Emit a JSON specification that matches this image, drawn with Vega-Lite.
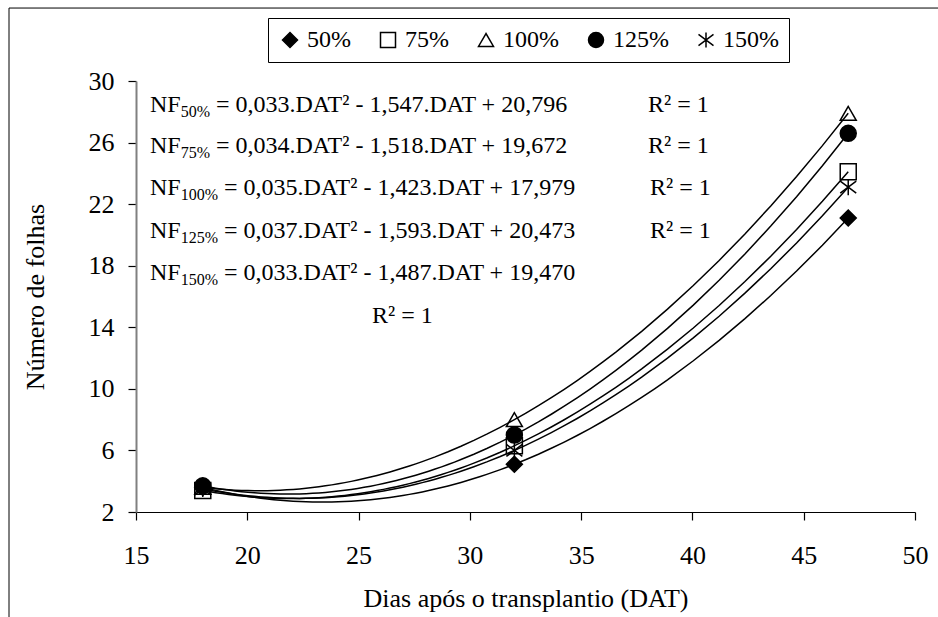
{
  "$schema": "https://vega.github.io/schema/vega-lite/v6.json",
  "width": 779,
  "height": 431,
  "autosize": {"type": "none"},
  "padding": {"left": 136, "top": 81, "right": 23, "bottom": 105},
  "background": "white",
  "datasets": {
    "pts": [
      {"serie": "50%", "DAT": 18, "NF": 3.6},
      {"serie": "50%", "DAT": 32, "NF": 5.1},
      {"serie": "50%", "DAT": 47, "NF": 21.1},
      {"serie": "75%", "DAT": 18, "NF": 3.4},
      {"serie": "75%", "DAT": 32, "NF": 6.3},
      {"serie": "75%", "DAT": 47, "NF": 24.1},
      {"serie": "100%", "DAT": 18, "NF": 3.6},
      {"serie": "100%", "DAT": 32, "NF": 8.0},
      {"serie": "100%", "DAT": 47, "NF": 27.9},
      {"serie": "125%", "DAT": 18, "NF": 3.7},
      {"serie": "125%", "DAT": 32, "NF": 7.0},
      {"serie": "125%", "DAT": 47, "NF": 26.6},
      {"serie": "150%", "DAT": 18, "NF": 3.5},
      {"serie": "150%", "DAT": 32, "NF": 6.0},
      {"serie": "150%", "DAT": 47, "NF": 23.1}
    ],
    "ann": [
      {"DAT": 15.629, "NF": 27.99, "txt": "NF", "kind": "main"},
      {"DAT": 17.008, "NF": 27.99, "txt": "50%", "kind": "sub"},
      {"DAT": 18.594, "NF": 27.99, "txt": "= 0,033.DAT² - 1,547.DAT + 20,796", "kind": "main"},
      {"DAT": 38.004, "NF": 27.99, "txt": "R² = 1", "kind": "main"},
      {"DAT": 15.629, "NF": 25.32, "txt": "NF", "kind": "main"},
      {"DAT": 17.008, "NF": 25.32, "txt": "75%", "kind": "sub"},
      {"DAT": 18.594, "NF": 25.32, "txt": "= 0,034.DAT² - 1,518.DAT + 19,672", "kind": "main"},
      {"DAT": 38.004, "NF": 25.32, "txt": "R² = 1", "kind": "main"},
      {"DAT": 15.629, "NF": 22.59, "txt": "NF", "kind": "main"},
      {"DAT": 17.008, "NF": 22.59, "txt": "100%", "kind": "sub"},
      {"DAT": 18.954, "NF": 22.59, "txt": "= 0,035.DAT² - 1,423.DAT + 17,979", "kind": "main"},
      {"DAT": 38.094, "NF": 22.59, "txt": "R² = 1", "kind": "main"},
      {"DAT": 15.629, "NF": 19.8, "txt": "NF", "kind": "main"},
      {"DAT": 17.008, "NF": 19.8, "txt": "125%", "kind": "sub"},
      {"DAT": 18.954, "NF": 19.8, "txt": "= 0,037.DAT² - 1,593.DAT + 20,473", "kind": "main"},
      {"DAT": 38.094, "NF": 19.8, "txt": "R² = 1", "kind": "main"},
      {"DAT": 15.629, "NF": 17.07, "txt": "NF", "kind": "main"},
      {"DAT": 17.008, "NF": 17.07, "txt": "150%", "kind": "sub"},
      {"DAT": 18.954, "NF": 17.07, "txt": "= 0,033.DAT² - 1,487.DAT + 19,470", "kind": "main"},
      {"DAT": 25.603, "NF": 14.28, "txt": "R² = 1", "kind": "main"}
    ]
  },
  "config": {
    "view": {"stroke": null},
    "font": "'Liberation Serif', 'Times New Roman', serif",
    "axis": {
      "grid": false,
      "labelFont": "'Liberation Serif', 'Times New Roman', serif",
      "titleFont": "'Liberation Serif', 'Times New Roman', serif",
      "labelFontSize": 26,
      "titleFontSize": 26,
      "titleFontWeight": "normal",
      "labelColor": "black",
      "titleColor": "black",
      "tickColor": "black",
      "tickSize": 8,
      "tickWidth": 1.2
    },
    "axisX": {"domainColor": "black", "domainWidth": 1.2, "labelPadding": 22, "titlePadding": 17, "labelFlush": false},
    "axisY": {"domainColor": "#808080", "domainWidth": 2, "labelPadding": 14, "titlePadding": 40},
    "legend": {
      "orient": "none",
      "legendX": 132,
      "legendY": -63,
      "direction": "horizontal",
      "strokeColor": "black",
      "fillColor": "white",
      "padding": 10,
      "columnPadding": 25,
      "labelFont": "'Liberation Serif', 'Times New Roman', serif",
      "labelFontSize": 24,
      "labelColor": "black",
      "labelOffset": 5,
      "symbolSize": 225,
      "symbolStrokeWidth": 1.5
    }
  },
  "layer": [
    {
      "data": {"values": [{}]},
      "mark": {"type": "rect", "fill": null, "stroke": "black", "strokeWidth": 1},
      "encoding": {
        "x": {"datum": 9.294, "type": "quantitative"},
        "x2": {"datum": 53},
        "y": {"datum": 34.74, "type": "quantitative"},
        "y2": {"datum": -5}
      }
    },
    {
      "data": {"name": "pts"},
      "transform": [
        {"regression": "NF", "on": "DAT", "groupby": ["serie"], "method": "poly", "order": 2, "extent": [18, 47]}
      ],
      "mark": {"type": "line", "color": "black", "strokeWidth": 1.5},
      "encoding": {
        "x": {"field": "DAT", "type": "quantitative"},
        "y": {"field": "NF", "type": "quantitative"},
        "detail": {"field": "serie", "type": "nominal"}
      }
    },
    {
      "data": {"name": "pts"},
      "mark": {"type": "point", "filled": true, "strokeWidth": 1.5, "size": 256, "opacity": 1},
      "encoding": {
        "x": {
          "field": "DAT",
          "type": "quantitative",
          "scale": {"domain": [15, 50], "nice": false, "zero": false},
          "axis": {"values": [15, 20, 25, 30, 35, 40, 45, 50], "title": "Dias após o transplantio (DAT)"}
        },
        "y": {
          "field": "NF",
          "type": "quantitative",
          "scale": {"domain": [2, 30], "nice": false, "zero": false},
          "axis": {"values": [2, 6, 10, 14, 18, 22, 26, 30], "title": "Número de folhas"}
        },
        "shape": {
          "field": "serie",
          "type": "nominal",
          "scale": {
            "domain": ["50%", "75%", "100%", "125%", "150%"],
            "range": ["diamond", "square", "triangle-up", "circle", "M0,-1L0,1M-1,-0.75L1,0.75M-1,0.75L1,-0.75"]
          },
          "legend": {"title": null}
        },
        "fill": {
          "field": "serie",
          "type": "nominal",
          "scale": {
            "domain": ["50%", "75%", "100%", "125%", "150%"],
            "range": ["black", "transparent", "transparent", "black", "black"]
          },
          "legend": {"title": null}
        },
        "stroke": {
          "field": "serie",
          "type": "nominal",
          "scale": {
            "domain": ["50%", "75%", "100%", "125%", "150%"],
            "range": ["black", "black", "black", "black", "black"]
          },
          "legend": {"title": null}
        }
      }
    },
    {
      "data": {"name": "ann"},
      "transform": [{"filter": "datum.kind == 'main'"}],
      "mark": {"type": "text", "align": "left", "baseline": "alphabetic", "fontSize": 24, "color": "black"},
      "encoding": {
        "x": {"field": "DAT", "type": "quantitative"},
        "y": {"field": "NF", "type": "quantitative"},
        "text": {"field": "txt"}
      }
    },
    {
      "data": {"name": "ann"},
      "transform": [{"filter": "datum.kind == 'sub'"}],
      "mark": {"type": "text", "align": "left", "baseline": "alphabetic", "fontSize": 16, "dy": 5, "color": "black"},
      "encoding": {
        "x": {"field": "DAT", "type": "quantitative"},
        "y": {"field": "NF", "type": "quantitative"},
        "text": {"field": "txt"}
      }
    }
  ]
}
